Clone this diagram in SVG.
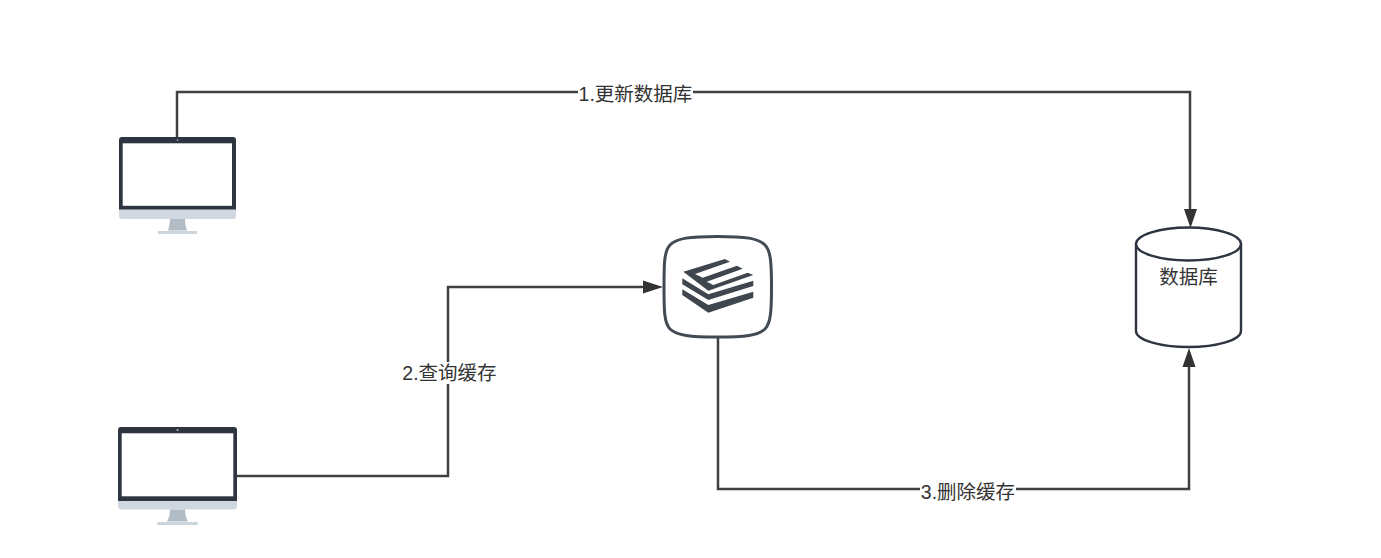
<svg xmlns="http://www.w3.org/2000/svg" width="1381" height="558" viewBox="0 0 1381 558">
<style>
.edge{fill:none;stroke:#404040;stroke-width:2.5}
.head{fill:#333}
.lbl{font-family:"Liberation Sans","Noto Sans CJK SC",sans-serif;font-size:19.5px;fill:#333;text-anchor:middle}
.lblbg{fill:#fff}
.bezel{fill:#2e3540}
.chin{fill:#cfd8e0}
.stand{fill:#b2bcc4}
.base{fill:#ccd5dc}
.cam{fill:#b8c0c8}
</style>
<rect width="1381" height="558" fill="#fff"/>
<g id="connectors">
<path class="edge" d="M177 139V92H1190V212"/>
<path class="head" d="M1184 209H1197L1190.500 228Z"/>
<path class="edge" d="M236 476H448V287H646"/>
<path class="head" d="M643 280.500L663 287L643 293.500Z"/>
<path class="edge" d="M718 338V489H1189V365"/>
<path class="head" d="M1182.500 367H1195.500L1189 348Z"/>
<rect class="lblbg" x="578" y="82" width="115" height="22"/>
<text class="lbl" x="635.500" y="100.500">1.更新数据库</text>
<rect class="lblbg" x="401" y="362" width="97" height="22"/>
<text class="lbl" x="449.500" y="379.500">2.查询缓存</text>
<rect class="lblbg" x="920" y="480" width="96" height="22"/>
<text class="lbl" x="968" y="498.500">3.删除缓存</text>
</g>
<g id="client-top">
<path class="chin" d="M119 209H236V216Q236 219 233 219H122Q119 219 119 216Z"/>
<path class="stand" d="M170 219H185Q185 226 187 230.500H168Q170 226 170 219Z"/>
<rect class="base" x="158" y="231" width="39" height="3"/>
<path class="bezel" d="M119 140Q119 137 122 137H233Q236 137 236 140V209.500H119Z"/>
<rect x="122.700" y="143.300" width="109.300" height="62.500" fill="#fff"/>
<circle class="cam" cx="177.500" cy="140" r="0.800"/>
</g>
<g id="client-bottom">
<path class="chin" d="M118 501H237V506Q237 509.500 233 509.500H122Q118 509.500 118 506Z"/>
<path class="stand" d="M170 509.500H185Q185 517 188 521.500H167Q170 517 170 509.500Z"/>
<rect class="base" x="157" y="522" width="41" height="3" rx="1.500"/>
<path class="bezel" d="M118 430Q118 427 121 427H234Q237 427 237 430V501H118Z"/>
<rect x="121.700" y="433.300" width="111.600" height="63" fill="#fff"/>
<circle class="cam" cx="177.500" cy="430" r="1"/>
</g>
<g id="cache">
<path d="M717.500 236.500C745 236.500 758 238 765 245C771 251 771.500 265 771.500 287C771.500 309 771 323 765 329C758 335.500 745 337 717.500 337C690 337 677 335.500 670 329C664 323 664 309 664 287C664 265 664 251 670 245C677 238 690 236.500 717.500 236.500Z" fill="#fff" stroke="#424a53" stroke-width="3"/>
<g fill="#3f464e">
<path d="M683.300 271.700L725 259L730 261.700L695 274L702.700 277.700L737 265.700L742.700 268.700L706.700 281.700L713.300 285L747.700 272.700L753.300 275L708.300 290.700Z"/>
<path d="M682.300 278.300L708.300 294.300L753.300 280.700V286L708.300 300L682.300 284.300Z"/>
<path d="M682.300 289.300L708.300 305L753.300 291.700V297.700L708.300 312.700L682.300 295Z"/>
</g>
</g>
<g id="database">
<path d="M1136 244V331C1136 340 1160 347 1188.500 347S1241 340 1241 331V244" fill="#fff" stroke="#2e3440" stroke-width="2.400"/>
<ellipse cx="1188.500" cy="244" rx="52.500" ry="16.500" fill="#fff" stroke="#2e3440" stroke-width="2.400"/>
<text class="lbl" x="1188.500" y="283.500">数据库</text>
</g>
</svg>
